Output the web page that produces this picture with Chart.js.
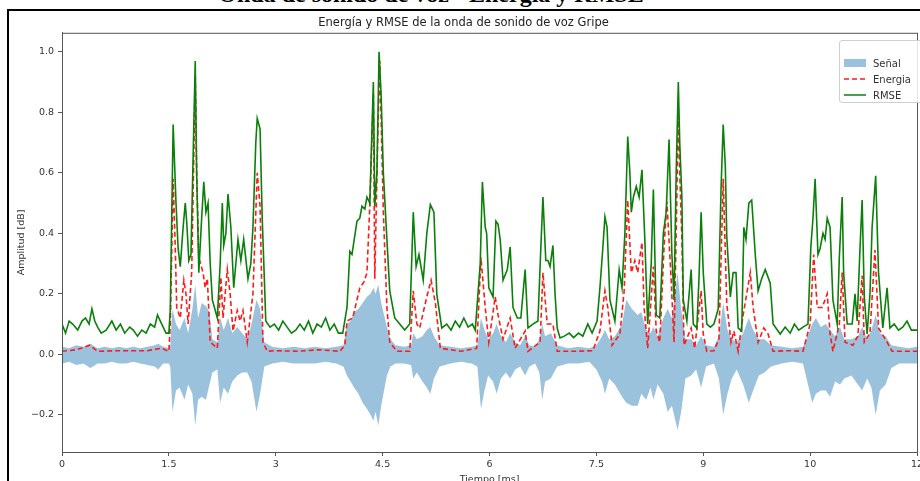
<!DOCTYPE html>
<html>
<head>
<meta charset="utf-8">
<script src="https://cdn.jsdelivr.net/npm/chart.js@4/dist/chart.umd.min.js"></script>
<style>
  html, body { margin: 0; padding: 0; background: #fff; overflow: hidden; width: 920px; height: 481px; }
  #wrap { position: relative; width: 920px; height: 481px; overflow: hidden; }
  #bigTitle { position: absolute; left: 0; width: 862px; top: -19px; text-align: center;
    font: bold 24px "Liberation Serif", "DejaVu Serif", serif; color: #000; white-space: nowrap; }
  #frame { position: absolute; left: 7px; top: 9px; width: 930px; height: 490px; border: 2px solid #000; box-sizing: border-box; background: #fff; }
  canvas { position: absolute; left: 0; top: 0; }
  #legend { position: absolute; left: 839px; top: 40px; width: 90px; height: 63px; box-sizing: border-box;
    border: 1px solid #d0d0d0; border-radius: 3px; background: rgba(255,255,255,0.85);
    font: 10px "DejaVu Sans", sans-serif; color: #333; }
  .item { position: absolute; left: 4px; height: 14px; display: flex; align-items: center; }
  .item svg { margin-right: 7px; }
</style>
</head>
<body>
<div id="wrap">
  <div id="bigTitle">Onda de sonido de voz - Energía y RMSE</div>
  <div id="frame"></div>
  <canvas id="chart" width="920" height="490"></canvas>
  <div id="legend"></div>
</div>
<script>
// --- Data ---
const chartTitle = 'Energía y RMSE de la onda de sonido de voz Gripe';
const xTitle = 'Tiempo [ms]';
const yTitle = 'Amplitud [dB]';
const seriesNames = ['Señal', 'Energia', 'RMSE'];

const timeTicks = [0, 1.5, 3, 4.5, 6, 7.5, 9, 10.5, 12];
const timeLabels = ['0', '1.5', '3', '4.5', '6', '7.5', '9', '10', '12'];
const ampTicks = [-0.2, 0, 0.2, 0.4, 0.6, 0.8, 1.0];

// [tiempo, rmse]
const rmseData = [
  [0,0.10],[0.05,0.07],[0.10,0.11],[0.15,0.10],[0.22,0.08],[0.28,0.11],[0.33,0.12],[0.38,0.10],[0.42,0.15],[0.46,0.11],
  [0.50,0.09],[0.55,0.07],[0.62,0.08],[0.70,0.11],[0.76,0.08],[0.82,0.10],[0.88,0.07],[0.95,0.09],[1.00,0.08],[1.06,0.06],
  [1.12,0.08],[1.18,0.07],[1.24,0.10],[1.30,0.09],[1.34,0.13],[1.40,0.10],[1.46,0.07],[1.50,0.07],
  [1.52,0.15],[1.56,0.76],[1.60,0.50],[1.63,0.35],[1.66,0.29],[1.70,0.42],[1.73,0.50],[1.75,0.44],[1.78,0.31],[1.81,0.33],
  [1.87,0.97],[1.89,0.60],[1.92,0.27],[1.96,0.45],[1.99,0.57],[2.02,0.47],[2.05,0.50],[2.08,0.30],[2.11,0.18],[2.18,0.12],
  [2.22,0.30],[2.25,0.50],[2.27,0.36],[2.30,0.40],[2.33,0.53],[2.37,0.42],[2.41,0.22],[2.47,0.38],[2.51,0.31],[2.55,0.38],
  [2.61,0.25],[2.65,0.30],[2.68,0.42],[2.72,0.70],[2.74,0.78],[2.78,0.745],[2.81,0.45],[2.84,0.25],[2.86,0.11],
  [2.92,0.09],[2.98,0.10],[3.04,0.08],[3.10,0.11],[3.16,0.09],[3.22,0.07],[3.28,0.08],[3.34,0.10],[3.40,0.08],[3.46,0.11],
  [3.52,0.07],[3.58,0.10],[3.64,0.09],[3.70,0.12],[3.76,0.08],[3.82,0.10],[3.88,0.07],[3.94,0.07],
  [4.00,0.155],[4.04,0.34],[4.07,0.33],[4.14,0.44],[4.18,0.45],[4.21,0.49],[4.25,0.48],[4.28,0.52],[4.32,0.50],[4.37,0.90],
  [4.39,0.49],[4.42,0.60],[4.45,1.00],[4.48,0.85],[4.51,0.60],[4.56,0.38],[4.60,0.21],[4.67,0.12],[4.74,0.10],[4.81,0.08],
  [4.88,0.10],[4.93,0.47],[4.97,0.29],[5.01,0.33],[5.07,0.245],[5.12,0.40],[5.17,0.495],[5.22,0.47],[5.26,0.20],[5.33,0.087],
  [5.40,0.10],[5.46,0.08],[5.52,0.11],[5.58,0.09],[5.64,0.12],[5.70,0.09],[5.76,0.10],[5.80,0.08],
  [5.87,0.30],[5.90,0.57],[5.94,0.42],[5.96,0.40],[5.99,0.22],[6.05,0.19],[6.09,0.44],[6.12,0.43],[6.15,0.38],[6.19,0.245],
  [6.25,0.28],[6.29,0.355],[6.33,0.155],[6.39,0.12],[6.44,0.12],[6.50,0.28],[6.54,0.087],[6.61,0.10],[6.68,0.11],[6.72,0.35],
  [6.75,0.52],[6.79,0.31],[6.82,0.31],[6.85,0.29],[6.89,0.36],[6.92,0.20],[6.95,0.087],[6.99,0.054],
  [7.05,0.06],[7.12,0.07],[7.18,0.055],[7.25,0.07],[7.31,0.06],[7.38,0.10],[7.44,0.07],[7.51,0.11],
  [7.55,0.22],[7.59,0.35],[7.62,0.455],[7.65,0.42],[7.69,0.18],[7.76,0.11],[7.82,0.28],[7.86,0.22],[7.90,0.40],[7.94,0.72],
  [7.97,0.60],[7.99,0.47],[8.02,0.52],[8.06,0.555],[8.10,0.52],[8.14,0.61],[8.18,0.38],[8.22,0.10],[8.27,0.30],[8.30,0.545],
  [8.34,0.13],[8.39,0.12],[8.44,0.40],[8.48,0.47],[8.52,0.71],[8.56,0.33],[8.59,0.18],[8.62,0.60],[8.65,0.90],[8.67,0.70],
  [8.70,0.52],[8.72,0.18],[8.77,0.11],[8.83,0.28],[8.86,0.10],[8.91,0.087],[8.94,0.25],[8.97,0.47],[9.00,0.27],[9.05,0.10],
  [9.10,0.09],[9.15,0.10],[9.21,0.15],[9.25,0.55],[9.28,0.76],[9.31,0.62],[9.33,0.39],[9.38,0.19],[9.42,0.27],[9.46,0.27],
  [9.49,0.087],[9.54,0.077],[9.57,0.42],[9.60,0.38],[9.64,0.50],[9.68,0.51],[9.73,0.33],[9.77,0.21],[9.82,0.25],[9.87,0.28],
  [9.94,0.235],[9.98,0.10],[10.08,0.067],[10.15,0.09],[10.22,0.07],[10.28,0.10],[10.34,0.08],[10.40,0.09],[10.47,0.10],
  [10.51,0.355],[10.54,0.45],[10.57,0.58],[10.61,0.33],[10.64,0.35],[10.68,0.40],[10.71,0.38],[10.74,0.45],[10.78,0.42],
  [10.82,0.18],[10.88,0.10],[10.91,0.32],[10.95,0.52],[10.97,0.27],[11.02,0.10],[11.09,0.10],[11.13,0.20],[11.16,0.11],
  [11.20,0.35],[11.23,0.51],[11.26,0.19],[11.30,0.067],[11.34,0.20],[11.37,0.42],[11.42,0.59],[11.46,0.27],[11.52,0.087],
  [11.58,0.22],[11.62,0.087],[11.68,0.10],[11.74,0.08],[11.80,0.09],[11.86,0.11],[11.92,0.08],[12.00,0.08]
];

// [tiempo, energia]
const energiaData = [
  [0,0.01],[0.2,0.015],[0.39,0.03],[0.5,0.01],[0.8,0.012],[1.2,0.012],[1.4,0.02],[1.50,0.01],
  [1.52,0.10],[1.56,0.58],[1.59,0.35],[1.61,0.155],[1.66,0.12],[1.71,0.245],[1.74,0.20],[1.77,0.10],[1.82,0.27],[1.87,0.92],
  [1.89,0.60],[1.92,0.32],[1.98,0.27],[2.01,0.22],[2.04,0.25],[2.08,0.04],[2.18,0.02],[2.23,0.255],[2.26,0.12],[2.32,0.28],
  [2.36,0.20],[2.40,0.077],[2.46,0.145],[2.50,0.11],[2.54,0.145],[2.60,0.04],[2.68,0.20],[2.74,0.60],[2.78,0.49],[2.82,0.04],
  [2.88,0.01],[3.0,0.012],[3.3,0.01],[3.6,0.015],[3.9,0.01],
  [3.97,0.03],[4.00,0.11],[4.08,0.12],[4.14,0.18],[4.18,0.22],[4.24,0.24],[4.28,0.27],[4.32,0.49],[4.37,0.86],[4.39,0.25],
  [4.43,0.70],[4.46,0.97],[4.51,0.47],[4.56,0.155],[4.60,0.04],[4.70,0.01],[4.88,0.01],[4.93,0.21],[4.98,0.10],[5.02,0.087],
  [5.12,0.19],[5.18,0.245],[5.24,0.17],[5.31,0.02],[5.6,0.01],[5.82,0.02],[5.88,0.32],[5.94,0.155],[5.99,0.04],[6.08,0.19],
  [6.12,0.13],[6.19,0.05],[6.29,0.12],[6.36,0.02],[6.50,0.077],[6.54,0.01],[6.71,0.04],[6.75,0.27],[6.81,0.10],[6.89,0.10],
  [6.95,0.01],[7.2,0.01],[7.45,0.012],[7.55,0.077],[7.62,0.21],[7.66,0.155],[7.72,0.03],[7.83,0.067],[7.89,0.21],[7.94,0.51],
  [7.99,0.27],[8.04,0.31],[8.08,0.27],[8.14,0.37],[8.17,0.155],[8.22,0.02],[8.30,0.29],[8.34,0.077],[8.39,0.04],[8.45,0.355],
  [8.49,0.505],[8.55,0.245],[8.59,0.04],[8.62,0.40],[8.65,0.80],[8.67,0.60],[8.70,0.38],[8.73,0.03],[8.83,0.087],[8.88,0.02],
  [8.97,0.21],[9.00,0.067],[9.05,0.01],[9.15,0.012],[9.22,0.05],[9.28,0.58],[9.33,0.167],[9.39,0.04],[9.43,0.077],[9.49,0.01],
  [9.56,0.13],[9.66,0.27],[9.70,0.155],[9.77,0.04],[9.85,0.087],[9.91,0.067],[9.98,0.01],[10.2,0.012],[10.4,0.01],
  [10.50,0.10],[10.55,0.33],[10.60,0.155],[10.67,0.155],[10.74,0.20],[10.78,0.067],[10.82,0.01],[10.91,0.10],[10.95,0.27],
  [10.99,0.04],[11.10,0.03],[11.17,0.06],[11.23,0.26],[11.26,0.04],[11.34,0.07],[11.41,0.345],[11.46,0.087],[11.58,0.04],
  [11.65,0.01],[12,0.01]
];

// [tiempo, envolvente superior, envolvente inferior] de la señal
const senalData = [
  [0,0.025,-0.03],[0.1,0.02,-0.025],[0.2,0.03,-0.035],[0.3,0.025,-0.03],[0.4,0.035,-0.045],[0.5,0.02,-0.03],[0.6,0.025,-0.03],
  [0.7,0.02,-0.025],[0.8,0.025,-0.03],[0.9,0.02,-0.03],[1.0,0.025,-0.025],[1.1,0.02,-0.03],[1.2,0.025,-0.035],[1.3,0.03,-0.04],
  [1.35,0.035,-0.05],[1.42,0.025,-0.03],[1.5,0.02,-0.03],
  [1.52,0.03,-0.04],[1.55,0.15,-0.19],[1.60,0.10,-0.12],[1.65,0.08,-0.11],[1.72,0.12,-0.15],[1.77,0.07,-0.10],[1.83,0.15,-0.13],
  [1.87,0.23,-0.235],[1.91,0.12,-0.15],[1.96,0.17,-0.14],[2.02,0.16,-0.15],[2.07,0.14,-0.10],[2.11,0.05,-0.06],[2.18,0.04,-0.05],
  [2.22,0.12,-0.16],[2.27,0.08,-0.11],[2.33,0.12,-0.13],[2.39,0.07,-0.09],[2.46,0.09,-0.07],[2.53,0.07,-0.06],[2.60,0.05,-0.06],
  [2.66,0.10,-0.09],[2.73,0.18,-0.19],[2.78,0.15,-0.13],[2.84,0.04,-0.04],
  [2.95,0.025,-0.03],[3.1,0.02,-0.025],[3.25,0.025,-0.03],[3.4,0.02,-0.03],[3.55,0.025,-0.03],[3.7,0.02,-0.025],[3.85,0.025,-0.03],
  [3.95,0.03,-0.04],
  [4.00,0.10,-0.07],[4.05,0.11,-0.09],[4.10,0.14,-0.11],[4.16,0.15,-0.13],[4.22,0.17,-0.16],[4.28,0.19,-0.18],[4.33,0.20,-0.20],
  [4.37,0.22,-0.22],[4.40,0.20,-0.19],[4.44,0.23,-0.235],[4.48,0.17,-0.17],[4.52,0.13,-0.12],[4.56,0.09,-0.07],[4.61,0.05,-0.04],
  [4.68,0.03,-0.03],[4.8,0.025,-0.03],
  [4.90,0.03,-0.035],[4.93,0.07,-0.08],[4.98,0.05,-0.06],[5.06,0.06,-0.09],[5.12,0.08,-0.11],[5.17,0.09,-0.13],[5.22,0.06,-0.08],
  [5.30,0.03,-0.04],[5.45,0.025,-0.03],[5.6,0.02,-0.025],[5.75,0.025,-0.03],[5.83,0.03,-0.04],
  [5.88,0.12,-0.18],[5.93,0.08,-0.12],[5.98,0.05,-0.07],[6.05,0.07,-0.09],[6.10,0.10,-0.13],[6.16,0.06,-0.08],[6.23,0.04,-0.06],
  [6.29,0.07,-0.08],[6.36,0.04,-0.05],[6.43,0.03,-0.04],[6.50,0.06,-0.07],[6.56,0.03,-0.04],[6.64,0.025,-0.03],[6.70,0.05,-0.06],
  [6.74,0.10,-0.15],[6.78,0.06,-0.09],[6.86,0.07,-0.08],[6.95,0.03,-0.04],
  [7.1,0.02,-0.03],[7.25,0.025,-0.03],[7.4,0.02,-0.025],[7.5,0.03,-0.05],
  [7.58,0.06,-0.09],[7.62,0.08,-0.13],[7.68,0.05,-0.08],[7.76,0.06,-0.10],[7.86,0.10,-0.14],[7.92,0.18,-0.16],[8.00,0.15,-0.17],
  [8.08,0.13,-0.17],[8.13,0.14,-0.13],[8.20,0.08,-0.15],[8.26,0.07,-0.11],[8.30,0.09,-0.15],[8.36,0.06,-0.10],[8.44,0.12,-0.13],
  [8.50,0.15,-0.19],[8.56,0.12,-0.17],[8.64,0.27,-0.25],[8.69,0.15,-0.19],[8.75,0.05,-0.08],[8.83,0.05,-0.07],[8.90,0.03,-0.05],
  [8.97,0.06,-0.11],[9.04,0.03,-0.04],[9.15,0.025,-0.03],
  [9.22,0.06,-0.08],[9.28,0.17,-0.20],[9.34,0.08,-0.13],[9.40,0.05,-0.08],[9.47,0.04,-0.05],[9.56,0.07,-0.10],[9.64,0.12,-0.16],
  [9.70,0.08,-0.12],[9.78,0.05,-0.07],[9.86,0.05,-0.06],[9.95,0.03,-0.04],
  [10.1,0.025,-0.03],[10.25,0.02,-0.025],[10.4,0.025,-0.03],
  [10.48,0.07,-0.11],[10.53,0.10,-0.16],[10.58,0.12,-0.13],[10.65,0.09,-0.12],[10.72,0.10,-0.12],[10.78,0.08,-0.14],[10.85,0.06,-0.09],
  [10.92,0.09,-0.10],[10.98,0.05,-0.08],[11.08,0.05,-0.07],[11.17,0.06,-0.10],[11.23,0.09,-0.12],[11.30,0.05,-0.08],[11.36,0.08,-0.11],
  [11.42,0.13,-0.20],[11.48,0.07,-0.12],[11.56,0.06,-0.10],[11.64,0.03,-0.045],
  [11.75,0.025,-0.03],[11.88,0.02,-0.03],[12,0.025,-0.03]
];

// --- Colours ---
const senalColor = 'rgba(31, 119, 180, 0.45)';
const energiaColor = '#ff1a1a';
const rmseColor = '#0a800a';
const axisColor = '#555';
const textColor = '#333';

// --- Chart ---
const toPts = (arr, k) => arr.map(r => ({ x: r[0], y: r[k] }));

// full box around the plot area (top + right spines)
const boxPlugin = {
  id: 'box',
  afterDraw(chart) {
    const { ctx, chartArea: a } = chart;
    ctx.save();
    ctx.strokeStyle = axisColor;
    ctx.lineWidth = 1;
    ctx.strokeRect(a.left + 0.5, a.top + 0.5, a.right - a.left, a.bottom - a.top);
    ctx.restore();
  }
};

new Chart(document.getElementById('chart'), {
  type: 'line',
  data: {
    datasets: [
      { label: seriesNames[0], data: toPts(senalData, 1), borderWidth: 0, backgroundColor: senalColor, fill: '+1', order: 3 },
      { label: seriesNames[0], data: toPts(senalData, 2), borderWidth: 0, backgroundColor: senalColor, fill: false, order: 3 },
      { label: seriesNames[1], data: toPts(energiaData, 1), borderColor: energiaColor, borderWidth: 1.6, borderDash: [5, 3], fill: false, order: 2 },
      { label: seriesNames[2], data: toPts(rmseData, 1), borderColor: rmseColor, borderWidth: 1.6, fill: false, order: 1 }
    ]
  },
  options: {
    responsive: false,
    animation: false,
    elements: { point: { radius: 0 }, line: { tension: 0 } },
    layout: { padding: { top: 16, left: 10, right: 3, bottom: 0 } },
    plugins: {
      legend: { display: false },
      tooltip: { enabled: false },
      title: {
        display: true,
        text: chartTitle,
        color: '#222',
        font: { family: 'DejaVu Sans', size: 11.5, weight: 'normal' },
        padding: { top: 0, bottom: 3 }
      }
    },
    scales: {
      x: {
        type: 'linear',
        min: 0,
        max: 12,
        afterBuildTicks: s => { s.ticks = timeTicks.map(v => ({ value: v })); },
        afterFit: s => { s.height = 38; s.paddingLeft = 0; s.paddingRight = 0; },
        ticks: {
          autoSkip: false,
          maxRotation: 0,
          padding: 3,
          color: textColor,
          font: { family: 'DejaVu Sans', size: 9.5 },
          callback: (v, i) => timeLabels[i]
        },
        grid: { drawOnChartArea: false, drawTicks: true, tickLength: 4, tickColor: axisColor },
        border: { display: true, color: axisColor },
        title: { display: true, text: xTitle, color: textColor, font: { family: 'DejaVu Sans', size: 9.5 }, padding: { top: 0, bottom: 5 } }
      },
      y: {
        type: 'linear',
        min: -0.323,
        max: 1.063,
        afterBuildTicks: s => { s.ticks = ampTicks.map(v => ({ value: v })); },
        afterFit: s => { s.width = 52; s.paddingTop = 0; s.paddingBottom = 0; },
        ticks: {
          padding: 4,
          color: textColor,
          font: { family: 'DejaVu Sans', size: 9.5 },
          callback: v => v.toFixed(1).replace('-', '\u2212')
        },
        grid: { drawOnChartArea: false, drawTicks: true, tickLength: 4, tickColor: axisColor },
        border: { display: true, color: axisColor },
        title: { display: true, text: yTitle, color: textColor, font: { family: 'DejaVu Sans', size: 9.5 }, padding: { top: 6, bottom: 0 } }
      }
    }
  },
  plugins: [boxPlugin]
});

// --- Legend (matplotlib style, upper right) ---
const legendEl = document.getElementById('legend');
const handles = [
  `<svg width="22" height="10"><rect x="0" y="1" width="22" height="8" fill="${senalColor}"/></svg>`,
  `<svg width="22" height="10"><line x1="0" y1="5" x2="22" y2="5" stroke="${energiaColor}" stroke-width="1.5" stroke-dasharray="5,3"/></svg>`,
  `<svg width="22" height="10"><line x1="0" y1="5" x2="22" y2="5" stroke="${rmseColor}" stroke-width="1.5"/></svg>`
];
seriesNames.forEach((name, i) => {
  const el = document.createElement('div');
  el.className = 'item';
  el.style.top = (15 + i * 16) + 'px';
  el.innerHTML = handles[i] + '<span>' + name + '</span>';
  legendEl.appendChild(el);
});
</script>
</body>
</html>
